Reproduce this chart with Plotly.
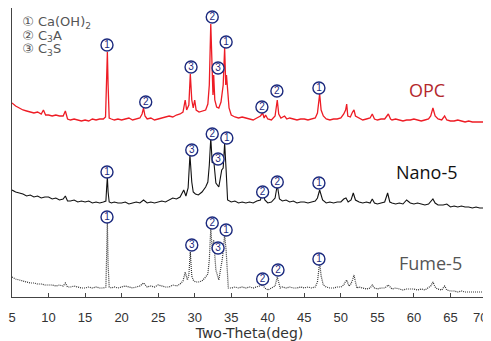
import plotly.graph_objects as go

# ---------------- data (intensity in a.u., patterns stacked with offsets) ----------------
opc_tt = [5.0, 5.5, 6.0, 6.5, 7.0, 7.5, 8.0, 8.5, 9.0, 9.3, 9.6, 10.0, 10.5, 11.0, 11.5, 12.0, 12.3, 12.6,
          13.0, 13.5, 14.0, 14.5, 15.0, 15.5, 16.0, 16.5, 17.0, 17.5, 17.8, 17.95, 18.05, 18.15, 18.3, 18.6,
          19.0, 19.5, 20.0, 20.5, 21.0, 21.5, 22.0, 22.5, 22.8, 23.0, 23.2, 23.5, 24.0, 24.5, 25.0, 25.5,
          26.0, 26.5, 27.0, 27.5, 28.0, 28.4, 28.7, 28.9, 29.2, 29.4, 29.6, 29.8, 30.0, 30.2, 30.6, 31.0,
          31.5, 31.8, 32.0, 32.2, 32.35, 32.5, 32.6, 32.75, 33.0, 33.3, 33.6, 33.9, 34.1, 34.25, 34.35, 34.5,
          34.7, 35.0, 35.5, 36.0, 36.5, 37.0, 37.5, 38.0, 38.5, 39.0, 39.3, 39.5, 39.7, 40.0, 40.5, 41.0,
          41.3, 41.5, 41.8, 42.3, 42.6, 43.0, 43.5, 44.0, 44.5, 45.0, 45.5, 46.0, 46.5, 46.8, 47.1, 47.3,
          47.6, 48.0, 48.5, 49.0, 49.5, 50.0, 50.4, 50.65, 50.8, 50.95, 51.3, 51.6, 51.8, 52.0, 52.5, 53.0,
          53.5, 54.0, 54.3, 54.6, 55.0, 55.5, 56.0, 56.5, 56.8, 57.0, 57.5, 58.0, 58.5, 59.0, 59.5, 60.0,
          60.5, 61.0, 61.5, 62.0, 62.3, 62.6, 62.9, 63.3, 63.8, 64.2, 64.5, 65.0, 65.5, 66.0, 66.5, 67.0,
          67.5, 68.0, 68.5, 69.0, 69.5, 70.0]
opc_int = [197, 194, 192, 190, 189, 188, 187, 188, 186, 190, 185, 185, 184, 185, 184, 184, 189, 181,
           180, 181, 180, 179, 180, 179, 181, 180, 181, 181, 183, 220, 248, 215, 182, 181,
           180, 181, 180, 181, 182, 180, 181, 182, 186, 192, 184, 181, 182, 180, 181, 182,
           183, 184, 183, 185, 186, 188, 200, 190, 195, 226, 200, 192, 200, 190, 188, 189,
           190, 196, 215, 276, 230, 205, 225, 200, 193, 192, 198, 215, 252, 215, 225, 205,
           192, 185, 183, 182, 183, 182, 181, 180, 182, 184, 187, 182, 185, 181, 180, 184,
           200, 186, 182, 184, 181, 182, 181, 180, 181, 181, 180, 181, 182, 187, 206, 190,
           184, 181, 180, 181, 181, 182, 186, 190, 196, 184, 183, 188, 190, 184, 182, 180,
           181, 182, 186, 181, 180, 181, 181, 186, 181, 180, 181, 180, 179, 180, 180, 181,
           180, 179, 180, 181, 184, 192, 184, 181, 180, 184, 180, 179, 179, 180, 179, 178,
           179, 178, 178, 178, 178, 178]

nano_tt = [5.0, 5.5, 6.0, 6.5, 7.0, 7.5, 8.0, 8.5, 9.0, 9.5, 10.0, 10.5, 11.0, 11.5, 12.0, 12.3, 12.6,
           13.0, 13.5, 14.0, 14.5, 15.0, 15.5, 16.0, 16.5, 17.0, 17.5, 17.85, 17.95, 18.05, 18.15, 18.3,
           18.6, 19.0, 19.5, 20.0, 20.5, 21.0, 21.5, 22.0, 22.5, 23.0, 23.5, 24.0, 24.5, 25.0, 25.5, 26.0,
           26.5, 27.0, 27.5, 28.0, 28.5, 28.8, 29.1, 29.35, 29.6, 29.8, 30.1, 30.5, 31.0, 31.5, 31.8, 32.0,
           32.2, 32.4, 32.6, 32.9, 33.3, 33.7, 33.9, 34.1, 34.3, 34.5, 35.0, 35.5, 36.0, 36.5, 37.0, 37.5,
           38.0, 38.5, 39.0, 39.3, 39.6, 40.0, 40.5, 41.0, 41.3, 41.6, 42.0, 42.5, 43.0, 43.5, 44.0, 44.5,
           45.0, 45.5, 46.0, 46.5, 46.8, 47.1, 47.5, 48.0, 48.5, 49.0, 49.5, 50.0, 50.4, 50.7, 51.0, 51.4,
           51.7, 52.0, 52.5, 53.0, 53.5, 54.0, 54.3, 54.6, 55.0, 55.5, 56.0, 56.4, 56.7, 57.0, 57.5, 58.0,
           58.5, 59.0, 59.5, 60.0, 60.5, 61.0, 61.5, 62.0, 62.3, 62.6, 62.9, 63.3, 64.0, 64.5, 65.0, 65.5,
           66.0, 66.5, 67.0, 67.5, 68.0, 68.5, 69.0, 69.5, 70.0]
nano_int = [110, 108, 107, 106, 104, 105, 103, 104, 102, 103, 103, 101, 102, 100, 101, 104, 99,
            99, 100, 98, 99, 98, 99, 97, 98, 97, 98, 99, 112, 123, 108, 98,
            97, 98, 97, 97, 98, 96, 97, 98, 97, 100, 97, 98, 97, 98, 99, 98,
            100, 102, 101, 103, 110, 104, 112, 145, 118, 108, 106, 105, 108, 113, 118, 135,
            162, 137, 140, 117, 113, 130, 132, 157, 130, 100, 98, 99, 97, 98, 97, 98,
            97, 99, 100, 110, 100, 97, 98, 102, 115, 101, 99, 100, 98, 99, 97, 98,
            98, 97, 98, 99, 102, 110, 100, 97, 98, 97, 98, 98, 101, 102, 98, 100,
            107, 100, 98, 97, 98, 97, 101, 97, 96, 97, 98, 107, 98, 97, 96, 97,
            96, 100, 97, 96, 97, 96, 95, 96, 98, 101, 97, 95, 95, 96, 93, 94,
            93, 94, 93, 93, 92, 93, 92, 92, 92]

fume_tt = [5.0, 5.5, 6.0, 6.5, 7.0, 7.5, 8.0, 8.5, 9.0, 9.5, 10.0, 10.5, 11.0, 11.5, 12.0, 12.3, 12.6,
           13.0, 13.5, 14.0, 14.5, 15.0, 15.5, 16.0, 16.5, 17.0, 17.5, 17.85, 17.95, 18.05, 18.15, 18.3,
           18.6, 19.0, 19.5, 20.0, 20.5, 21.0, 21.5, 22.0, 22.5, 23.0, 23.5, 24.0, 24.5, 25.0, 25.5, 26.0,
           26.5, 27.0, 27.5, 28.0, 28.4, 28.7, 29.0, 29.2, 29.4, 29.6, 29.8, 30.1, 30.5, 31.0, 31.5, 31.8,
           32.0, 32.2, 32.4, 32.6, 32.9, 33.3, 33.8, 34.1, 34.3, 34.6, 35.0, 35.5, 36.0, 36.5, 37.0, 37.5,
           38.0, 38.5, 39.0, 39.3, 39.6, 40.0, 40.5, 41.0, 41.3, 41.7, 42.0, 42.5, 43.0, 43.5, 44.0, 44.5,
           45.0, 45.5, 46.0, 46.5, 46.8, 47.1, 47.3, 47.6, 48.0, 48.5, 49.0, 49.5, 50.0, 50.4, 50.6, 50.8,
           51.1, 51.3, 51.6, 51.8, 52.0, 52.2, 52.5, 53.0, 53.5, 54.0, 54.3, 54.6, 55.0, 55.5, 56.0, 56.5,
           56.8, 57.0, 57.5, 58.0, 58.5, 59.0, 59.5, 60.0, 60.5, 61.0, 61.5, 62.0, 62.3, 62.6, 62.9, 63.2,
           63.8, 64.2, 64.5, 65.0, 65.5, 66.0, 66.5, 67.0, 67.5, 68.0, 68.5, 69.0, 69.5, 70.0]
fume_int = [23, 21, 20, 19, 18, 17, 17, 16, 16, 15, 15, 15, 14, 15, 14, 17, 13,
            13, 14, 13, 12, 12, 13, 12, 13, 12, 12, 13, 40, 78, 35, 13,
            12, 13, 12, 13, 14, 13, 12, 13, 14, 17, 13, 14, 13, 15, 14, 13,
            13, 15, 14, 16, 19, 28, 20, 25, 48, 24, 20, 18, 18, 19, 23, 26,
            40, 72, 50, 60, 30, 20, 42, 65, 50, 12, 12, 13, 12, 13, 12, 13,
            12, 13, 14, 15, 12, 10, 12, 14, 23, 12, 13, 12, 13, 12, 12, 13,
            12, 13, 12, 13, 18, 38, 24, 15, 13, 12, 12, 13, 13, 15, 18, 20,
            14, 15, 20, 25, 18, 12, 13, 12, 11, 12, 15, 12, 11, 12, 12, 15,
            12, 11, 12, 11, 10, 11, 11, 11, 10, 11, 10, 12, 14, 18, 13, 11,
            10, 14, 10, 9, 9, 8, 9, 8, 8, 8, 8, 8, 8, 8]

tick_vals = [5, 10, 15, 20, 25, 30, 35, 40, 45, 50, 55, 60, 65, 70]
tick_text = ["5", "10", "15", "20", "25", "30", "35", "40", "45", "50", "55", "60", "65", ""]
last_tick = "70"

# peak markers: two-theta, height, phase number
peak_x = [18.0, 23.3, 29.5, 32.4, 33.2, 34.3, 39.2, 41.25, 47.0,
          18.0, 29.6, 32.4, 33.2, 34.4, 39.3, 41.3, 47.0,
          18.0, 29.6, 32.4, 33.2, 34.3, 39.3, 41.4, 47.0]
peak_y = [255, 198, 233, 283, 232, 258, 193, 209, 212,
          128, 150, 166, 141, 162, 108, 118, 117,
          83, 55, 77, 52, 70, 21, 30, 41]
peak_num = ["1", "2", "3", "2", "3", "1", "2", "2", "1",
            "1", "3", "2", "3", "1", "2", "2", "1",
            "1", "3", "2", "3", "1", "2", "2", "1"]

legend_items = ["① Ca(OH)<sub>2</sub>", "② C<sub>3</sub>A", "③ C<sub>3</sub>S"]
legend_x = [6.4, 6.4, 6.4]
legend_y = [277, 263.5, 250]
series_names = ["OPC", "Nano-5", "Fume-5"]

# ---------------- figure ----------------
fig = go.Figure()
fig.add_trace(go.Scatter(x=opc_tt, y=opc_int, mode="lines", name=series_names[0],
                         line=dict(color="#ee1c25", width=1.3)))
fig.add_trace(go.Scatter(x=nano_tt, y=nano_int, mode="lines", name=series_names[1],
                         line=dict(color="#111111", width=1.1)))
fig.add_trace(go.Scatter(x=fume_tt, y=fume_int, mode="lines", name=series_names[2],
                         line=dict(color="#333333", width=1.2, dash="1px,1px")))

fig.add_trace(go.Scatter(
    x=peak_x, y=peak_y, mode="markers+text", text=peak_num,
    textposition="middle center", cliponaxis=False,
    marker=dict(symbol="circle", size=12, color="white",
                line=dict(color="#1c2a7e", width=1.4)),
    textfont=dict(family="Liberation Sans", size=10, color="#1c2a7e"),
    hoverinfo="skip"))

# phase key (text anchored at its left end)
fig.add_trace(go.Scatter(
    x=legend_x, y=legend_y, mode="text", text=legend_items,
    textposition="middle right", cliponaxis=False,
    textfont=dict(family="DejaVu Sans", size=13, color="#555555"),
    hoverinfo="skip"))

# last tick label, centred slightly left so it stays inside the page
fig.add_annotation(x=70, y=0, xref="x", yref="paper", text=last_tick, showarrow=False,
                   xanchor="center", yanchor="middle", xshift=-7, yshift=-20,
                   font=dict(family="Liberation Sans", size=13, color="#333"))

label_pos = [(61.8, 210, "#b3282d"), (61.8, 128, "#111111"), (62.2, 37, "#555555")]
for name, (lx, ly, lc) in zip(series_names, label_pos):
    fig.add_annotation(x=lx, y=ly, text=name, showarrow=False,
                       font=dict(family="Open Sans", size=18, color=lc))

fig.update_layout(
    width=483, height=333,
    margin=dict(l=4, r=4, t=0, b=44, autoexpand=False),
    paper_bgcolor="white", plot_bgcolor="white",
    showlegend=False,
    xaxis=dict(range=[5, 70], tickvals=tick_vals, ticktext=tick_text,
               ticks="inside", ticklen=4, ticklabelstandoff=8,
               tickcolor="#444", showline=True, linecolor="#444", linewidth=1, mirror=True,
               showgrid=False, zeroline=False, automargin=False,
               tickfont=dict(family="Liberation Sans", size=13, color="#333"),
               title=dict(text="Two-Theta(deg)", standoff=0,
                          font=dict(family="DejaVu Sans", size=14, color="#333"))),
    yaxis=dict(range=[3, 292], showticklabels=False, ticks="", showline=True,
               linecolor="#444", linewidth=1, mirror=True, showgrid=False, zeroline=False,
               automargin=False),
)

fig.write_html("out.html")
